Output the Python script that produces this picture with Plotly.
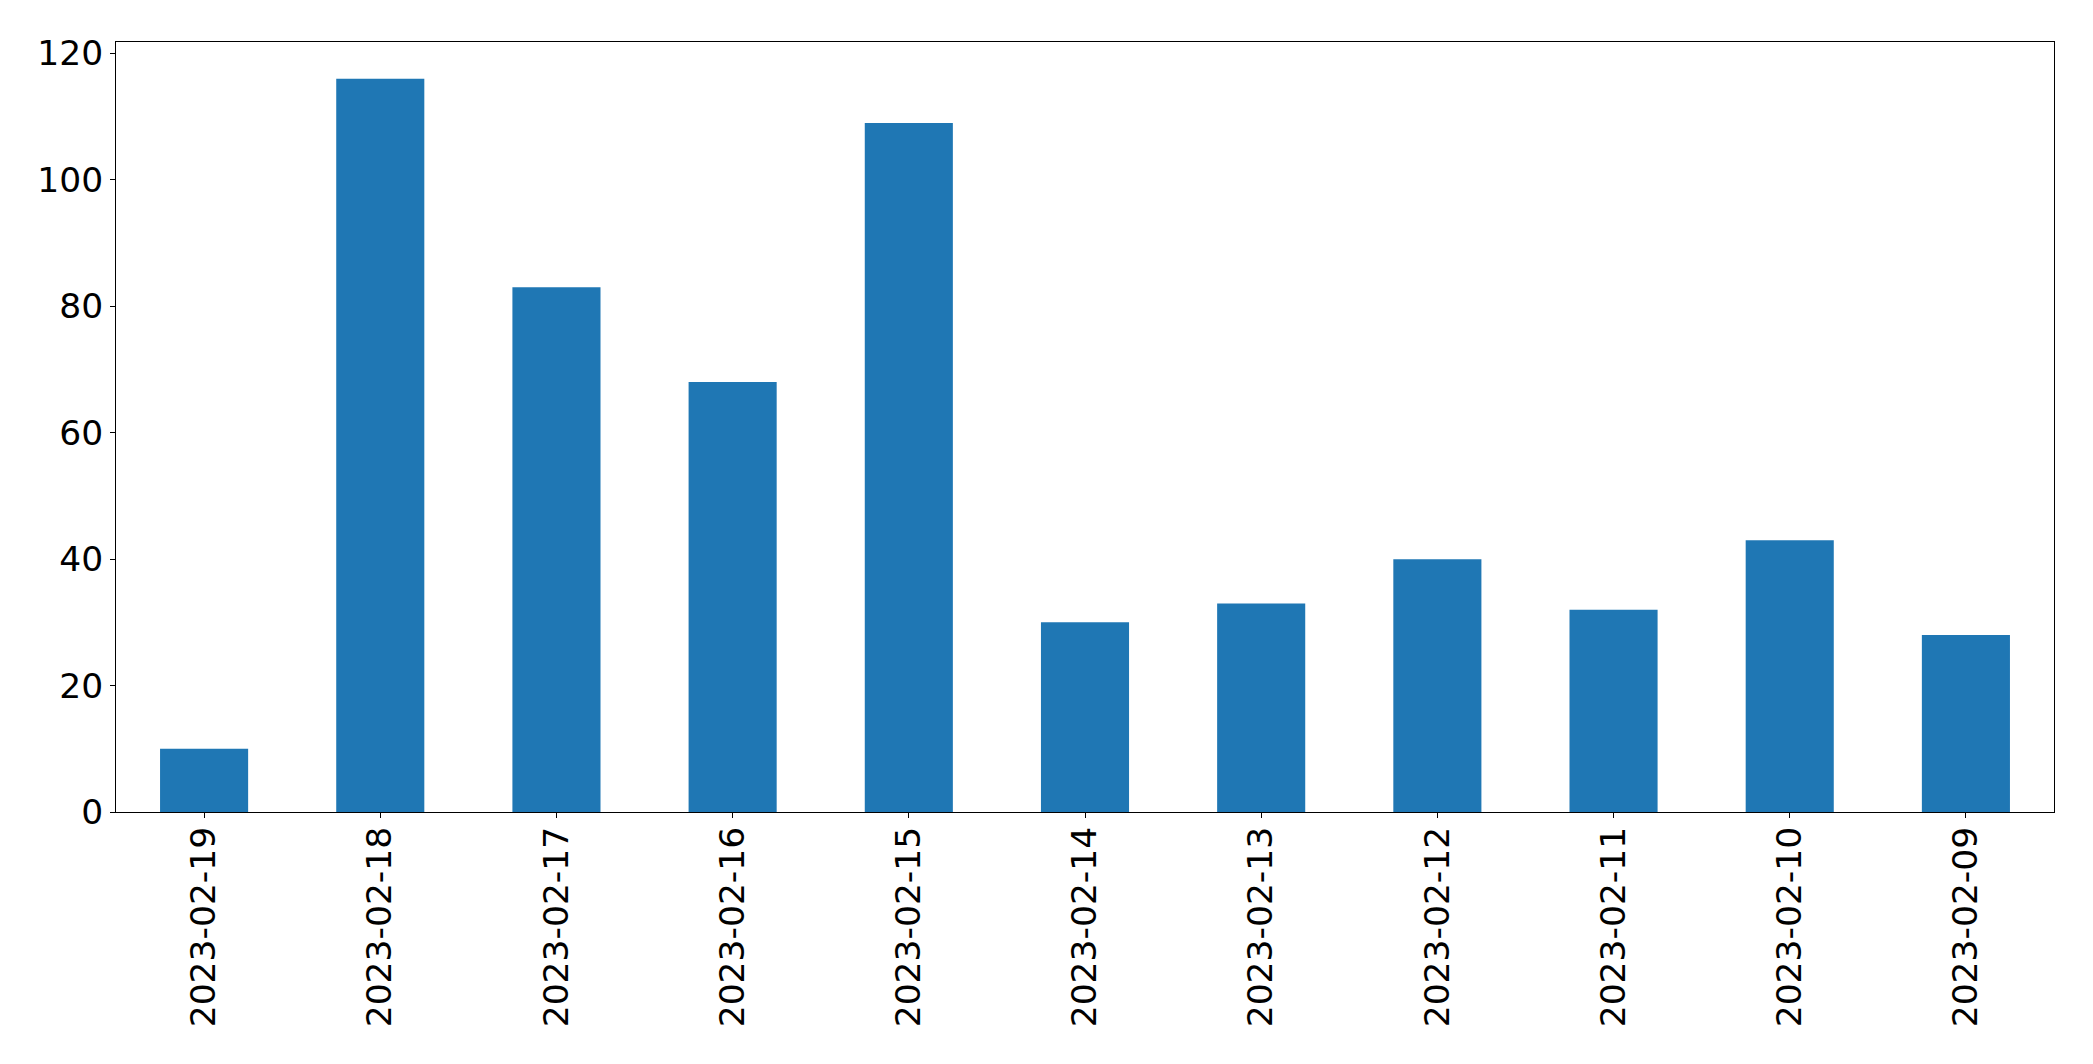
import plotly.graph_objects as go

dates = ["2023-02-19", "2023-02-18", "2023-02-17", "2023-02-16", "2023-02-15",
         "2023-02-14", "2023-02-13", "2023-02-12", "2023-02-11", "2023-02-10",
         "2023-02-09"]
counts = [10, 116, 83, 68, 109, 30, 33, 40, 32, 43, 28]

fig = go.Figure(go.Bar(x=dates, y=counts, marker_color="#1f77b4", width=0.5,
                       marker_line_width=0))

axis_common = dict(showline=True, linecolor="black", linewidth=1, mirror=True,
                   ticks="outside", ticklen=5, tickwidth=1, tickcolor="black",
                   showgrid=False, zeroline=False,
                   tickfont=dict(family="DejaVu Sans", size=34.5, color="black"))

fig.update_xaxes(type="category", range=[-0.5, 10.5], tickangle=-90,
                 ticklabelstandoff=-5, **axis_common)
fig.update_yaxes(range=[0, 121.8], tickvals=[0, 20, 40, 60, 80, 100, 120], **axis_common)

fig.update_layout(width=2077, height=1048, plot_bgcolor="white", paper_bgcolor="white",
                  margin=dict(l=108, r=31, t=34, b=244, autoexpand=False), showlegend=False,
                  font=dict(family="DejaVu Sans", color="black"))

fig.write_html("out.html")
